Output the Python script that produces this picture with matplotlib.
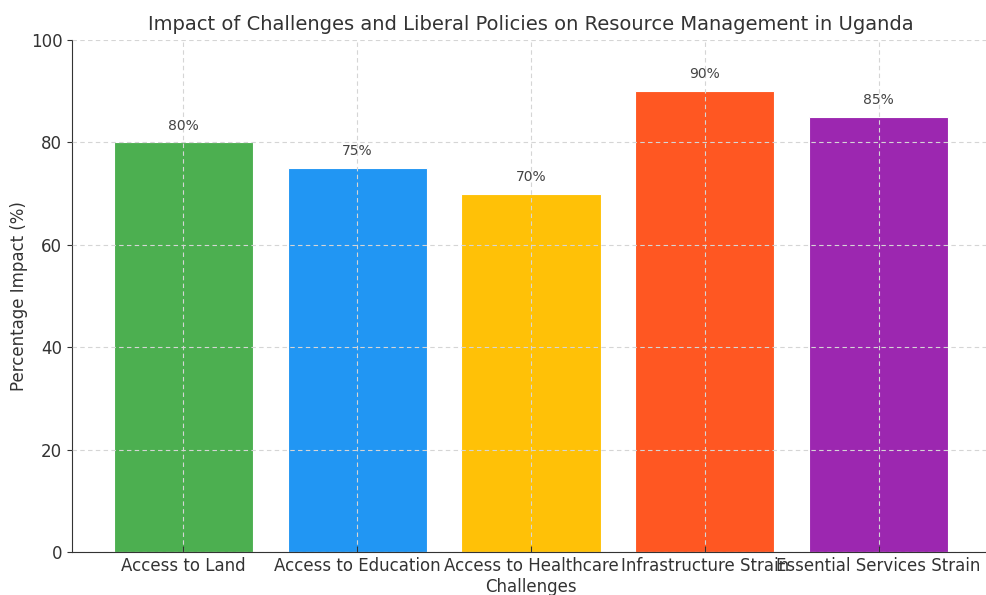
import matplotlib
matplotlib.use("Agg")
import matplotlib.pyplot as plt

# Datos del grafico
categorias = ["Access to Land", "Access to Education", "Access to Healthcare",
              "Infrastructure Strain", "Essential Services Strain"]
impacto = [80, 75, 70, 90, 85]
colores = ["#4CAF50", "#2196F3", "#FFC107", "#FF5722", "#9C27B0"]

fig = plt.figure(figsize=(9.86, 5.95), dpi=100)
ax = fig.add_axes([0.073, 0.0723, 0.931, 0.8605])

barras = ax.bar(categorias, impacto, color=colores, width=0.8,
                edgecolor="white", linewidth=0.8)

# Etiquetas de porcentaje sobre cada barra
for b, v in zip(barras, impacto):
    ax.annotate(f"{v}%", (b.get_x() + b.get_width() / 2, v),
                xytext=(0, 7), textcoords="offset points",
                ha="center", va="bottom", fontsize=10, color="#444444")

ax.set_ylim(0, 100)
ax.set_xlim(-0.64, 4.64)
ax.set_title("Impact of Challenges and Liberal Policies on Resource Management in Uganda",
             fontsize=14, color="#333333", pad=7)
ax.set_xlabel("Challenges", fontsize=12, color="#333333", labelpad=2)
ax.set_ylabel("Percentage Impact (%)", fontsize=12, color="#333333", labelpad=2)
ax.tick_params(axis="both", labelsize=12, colors="#333333")
ax.tick_params(axis="x", direction="in", length=4)
ax.grid(True, linestyle=(0, (4, 3)), color="#d5d5d5", linewidth=0.8)
ax.set_axisbelow(False)
for s in ["top", "right"]:
    ax.spines[s].set_visible(False)
for s in ["left", "bottom"]:
    ax.spines[s].set_color("#333333")

fig.savefig("out.png", dpi=100)
